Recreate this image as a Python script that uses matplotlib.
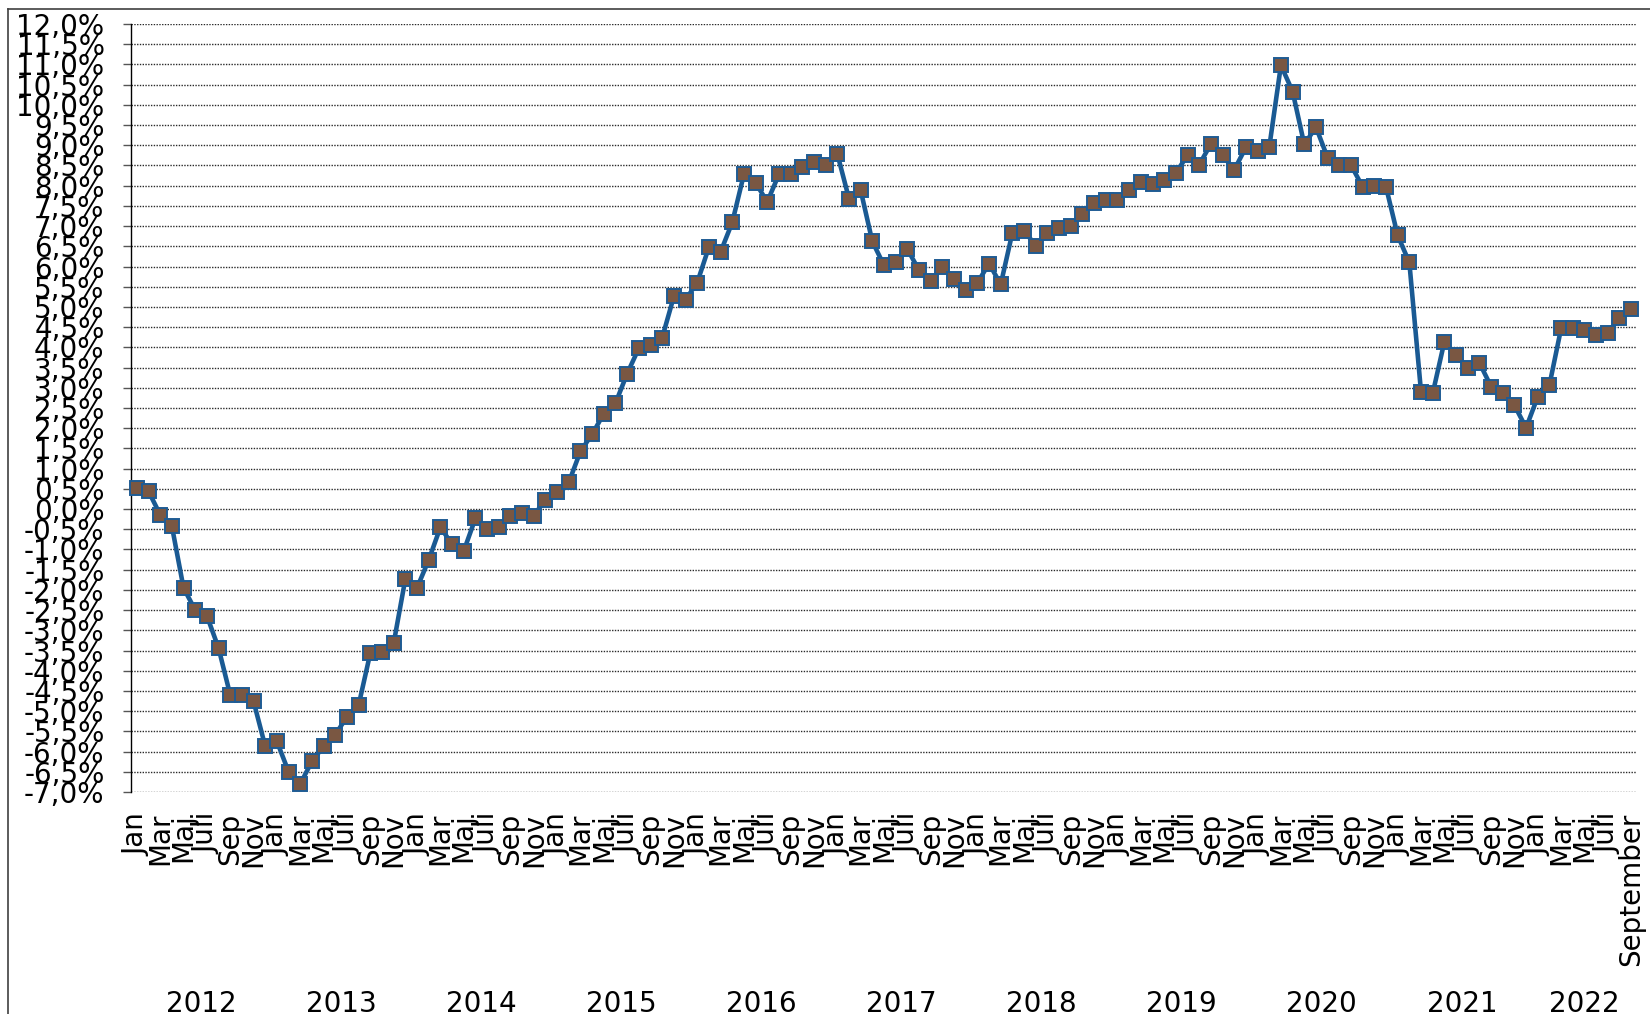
import matplotlib
matplotlib.use("Agg")
import matplotlib.pyplot as plt
from matplotlib.transforms import blended_transform_factory
from matplotlib.lines import Line2D

# ---- data (percent, monthly) ----
years = [2012, 2013, 2014, 2015, 2016, 2017, 2018, 2019, 2020, 2021, 2022]
month_names = ["Jan", "Feb", "Mar", "Apr", "Maj", "Jun", "Juli", "Aug", "Sep", "Okt", "Nov", "Dec"]
last_label = "September"

v2012 = [0.51, 0.44, -0.14, -0.42, -1.95, -2.50, -2.64, -3.44, -4.60, -4.60, -4.76, -5.87]
v2013 = [-5.75, -6.50, -6.80, -6.24, -5.87, -5.58, -5.14, -4.85, -3.56, -3.53, -3.32, -1.73]
v2014 = [-1.95, -1.26, -0.45, -0.87, -1.04, -0.23, -0.49, -0.45, -0.16, -0.10, -0.16, 0.23]
v2015 = [0.41, 0.66, 1.43, 1.85, 2.36, 2.62, 3.35, 3.98, 4.07, 4.24, 5.26, 5.18]
v2016 = [5.60, 6.48, 6.36, 7.09, 8.28, 8.07, 7.60, 8.28, 8.28, 8.45, 8.59, 8.50]
v2017 = [8.79, 7.68, 7.89, 6.62, 6.03, 6.11, 6.43, 5.91, 5.63, 5.99, 5.68, 5.43]
v2018 = [5.60, 6.07, 5.56, 6.84, 6.88, 6.52, 6.83, 6.96, 7.00, 7.29, 7.56, 7.64]
v2019 = [7.64, 7.90, 8.09, 8.03, 8.15, 8.32, 8.75, 8.52, 9.03, 8.75, 8.39, 8.95]
v2020 = [8.87, 8.95, 10.98, 10.33, 9.02, 9.45, 8.69, 8.51, 8.51, 7.97, 7.99, 7.97]
v2021 = [6.77, 6.10, 2.90, 2.86, 4.14, 3.81, 3.50, 3.62, 3.03, 2.86, 2.57, 2.01]
v2022 = [2.78, 3.07, 4.47, 4.49, 4.43, 4.31, 4.35, 4.73, 4.94]

yearly_values = [v2012, v2013, v2014, v2015, v2016, v2017, v2018, v2019, v2020, v2021, v2022]

y_ticks = [-7.0 + 0.5 * i for i in range(39)]
y_tick_labels = [("%.1f" % t).replace(".", ",") + "%" for t in y_ticks]

# ---- build series ----
values = []
cat_labels = []
year_of = []
for yr, vals in zip(years, yearly_values):
    for m, v in enumerate(vals):
        values.append(v)
        cat_labels.append(month_names[m])
        year_of.append(yr)
cat_labels[-1] = last_label
x = list(range(len(values)))

W, H = 1650, 1014
fig = plt.figure(figsize=(W / 100, H / 100), dpi=100)
fig.patch.set_facecolor("white")

left, right, top, bottom = 131, 1637, 24, 792
ax = fig.add_axes([left / W, 1 - bottom / H, (right - left) / W, (bottom - top) / H])

ax.plot(x, values, color="#1A5A93", lw=3.3, marker="s", ms=10.5,
        mfc="#7A5742", mec="#1F5C94", mew=1.4, zorder=3, clip_on=False)

ax.set_xlim(-0.5, len(values) - 0.5)
ax.set_ylim(-7.0, 12.0)

ax.set_yticks(y_ticks)
ax.set_yticklabels(y_tick_labels, fontsize=20)
ax.yaxis.grid(True, color="#2a2a2a", linestyle=(0, (1, 1)), lw=1.0, zorder=0)
ax.tick_params(axis="y", length=6, width=1, color="#555555", pad=13, direction="out")

shown = list(range(0, len(values), 2))
ax.set_xticks(shown)
ax.set_xticklabels([cat_labels[i] for i in shown], rotation=90, fontsize=20,
                   ha="center", va="top")
ax.tick_params(axis="x", length=0, pad=15)

for s in ["top", "right", "bottom"]:
    ax.spines[s].set_visible(False)
ax.spines["left"].set_color("black")
ax.spines["left"].set_linewidth(1.0)

# year labels
trans = blended_transform_factory(ax.transData, fig.transFigure)
for yr in years:
    idx = [i for i, y in enumerate(year_of) if y == yr]
    cx = (idx[0] + idx[-1]) / 2.0
    ax.text(cx, 1 - 1012 / H, str(yr), transform=trans, ha="center", va="baseline",
            fontsize=20, clip_on=False)

# outer chart border (left and top visible)
fig.add_artist(Line2D([7.5 / W, 7.5 / W], [0, 1 - 9 / H], transform=fig.transFigure,
                      color="#404040", lw=1.2))
fig.add_artist(Line2D([7.5 / W, 1.0], [1 - 9 / H, 1 - 9 / H], transform=fig.transFigure,
                      color="#404040", lw=1.2))

fig.savefig("out.png", dpi=100, facecolor="white")
